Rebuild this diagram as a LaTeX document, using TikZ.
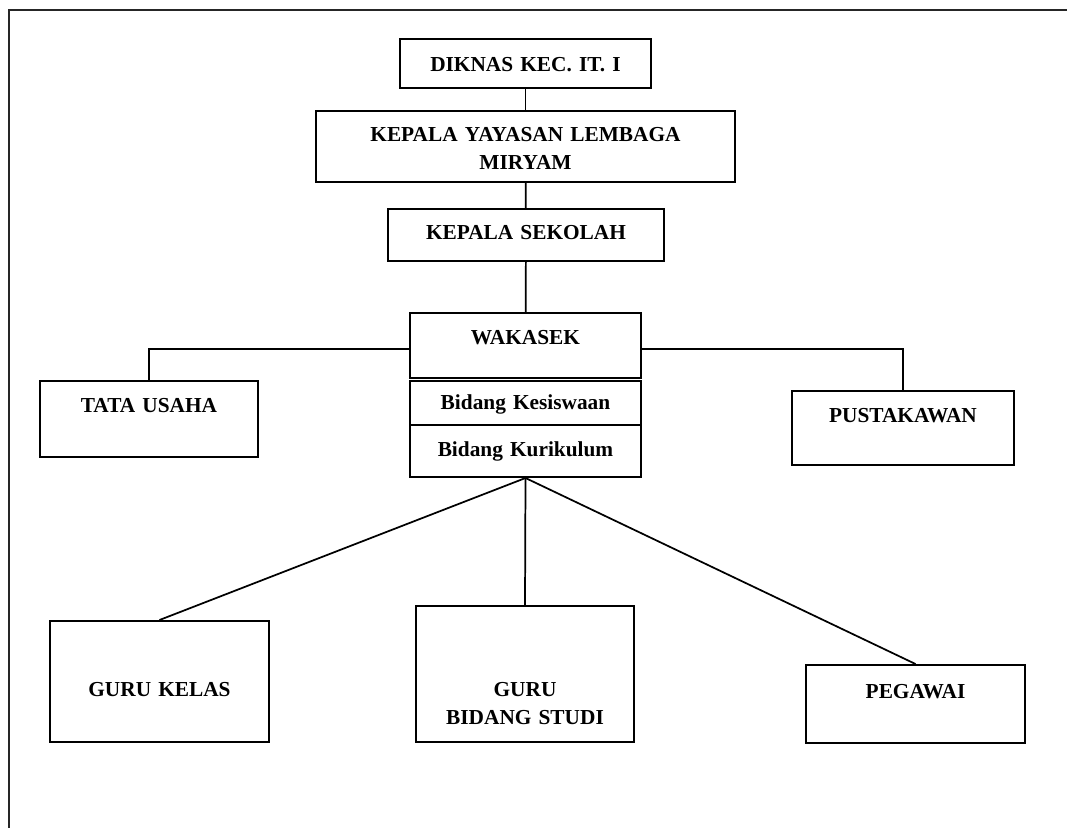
\documentclass[tikz,border=0pt]{standalone}
\usepackage{fontspec}
\setmainfont{Liberation Serif}
\usetikzlibrary{positioning,calc}

\begin{document}
\begin{tikzpicture}[
  x=0.75pt,y=-0.75pt,
  font=\bfseries\fontsize{16}{21}\selectfont,
  link/.style={draw=black,line width=1.3pt},
  frame/.style={draw=black!85,line width=1.2pt},
  unit/.style={draw=black,line width=1.5pt,anchor=north,align=center,
               inner xsep=0pt,inner ysep=0pt},
  wide/.style={text width=#1}
]
\useasboundingbox (0,0) rectangle (1067,828);
\draw[frame] (1067,10) -| (9,828);
% ---------- top of the chain
\node[unit,wide=188.25pt,text height=24pt,text depth=12.75pt] (dik) at (525.5,38) {DIKNAS KEC. IT. I};
\node[unit,wide=314.25pt,text height=22.5pt,text depth=30.75pt] (yys) at (525.5,110) {KEPALA YAYASAN LEMBAGA\\MIRYAM};
\node[unit,wide=207pt,text height=22.5pt,text depth=16.5pt] (ks) at (526,208) {KEPALA SEKOLAH};
% ---------- wakasek block
\node[unit,wide=173.25pt,text height=23.25pt,text depth=25.5pt] (wk) at (525.5,312) {WAKASEK};
\node[unit,wide=173.25pt,text height=21.4pt,text depth=12pt] (kes) at (525.5,379.5) {Bidang Kesiswaan};
\node[unit,wide=173.25pt,text height=23.25pt,text depth=15.75pt] (kur) at (525.5,424) {Bidang Kurikulum};
% ---------- side units
\node[unit,wide=163.5pt,text height=23.25pt,text depth=33.75pt] (tu) at (149,380) {TATA USAHA};
\node[unit,wide=166.5pt,text height=23.25pt,text depth=32.25pt] (pus) at (903,390) {PUSTAKAWAN};
% ---------- bottom row
\node[unit,wide=164.25pt,text height=56.25pt,text depth=34.5pt] (gk) at (159.5,620) {GURU KELAS};
\node[unit,wide=163.5pt,text height=67.5pt,text depth=34.5pt] (gbs) at (525,605) {GURU\\BIDANG STUDI};
\node[unit,wide=164.25pt,text height=24.75pt,text depth=33.75pt] (peg) at (915.5,664) {PEGAWAI};
% ---------- connectors
\draw[link] (dik) -- (yys);
\draw[link] (yys) -- (ks);
\draw[link] (ks) -- (wk);
\draw[link] ([yshift=-2.6pt]wk.west) -| (tu.north);
\draw[link] ([yshift=-2.6pt]wk.east) -| (pus.north);
\draw[link] (kur.south) -- (gk.north);
\draw[link] (kur.south) -- (gbs.north);
\draw[link] (kur.south) -- (peg.north);
\end{tikzpicture}
\end{document}
